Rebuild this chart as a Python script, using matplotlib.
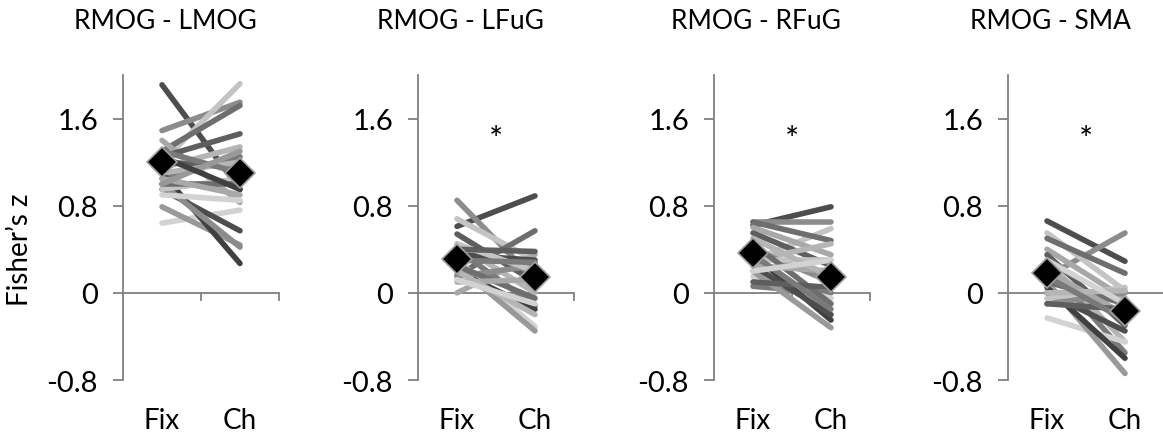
import matplotlib
matplotlib.use("Agg")
import matplotlib.pyplot as plt
import numpy as np

plt.rcParams['font.family'] = ['Lato', 'DejaVu Sans']

titles = ['RMOG - LMOG', 'RMOG - LFuG', 'RMOG - RFuG', 'RMOG - SMA']
conditions = ['Fix', 'Ch']
yticks = [-0.8, 0, 0.8, 1.6]
significant = [False, True, True, True]

# per-subject Fisher's z (Fix, Ch)
lmog_fix = [1.91, 1.49, 1.20, 1.30, 1.40, 1.25, 1.15, 1.05, 0.64, 0.79, 1.10,
            0.95, 1.00, 0.95, 1.00, 1.05, 1.20, 1.10, 1.30, 0.90, 1.00, 1.25]
lmog_ch = [0.95, 1.75, 1.92, 1.72, 0.83, 1.46, 1.34, 1.25, 0.76, 0.44, 0.27,
           0.57, 0.42, 1.05, 1.00, 0.90, 1.15, 1.20, 1.10, 0.85, 1.30, 0.95]
lfug_fix = [0.61, 0.85, 0.68, 0.16, 0.00, 0.54, 0.45, 0.40, 0.30, 0.25,
            0.20, 0.35, 0.15, 0.45, 0.25, 0.10, 0.40, 0.20, 0.30, 0.12]
lfug_ch = [0.89, 0.12, 0.30, 0.57, 0.35, 0.10, 0.00, -0.12, -0.31, -0.35,
           -0.15, 0.30, 0.25, 0.20, -0.05, 0.12, 0.38, -0.20, 0.28, -0.10]
rfug_fix = [0.62, 0.65, 0.30, 0.65, 0.60, 0.55, 0.30, 0.06, 0.15, 0.20,
            0.35, 0.25, 0.40, 0.30, 0.45, 0.25, 0.10, 0.50, 0.35, 0.20]
rfug_ch = [0.79, 0.65, 0.59, 0.48, 0.35, 0.25, 0.45, 0.00, -0.05, -0.32,
           -0.25, -0.20, 0.10, 0.30, -0.10, 0.20, 0.05, 0.15, -0.15, 0.30]
sma_fix = [0.66, 0.15, 0.55, 0.50, 0.40, 0.35, 0.30, 0.25, -0.23, 0.10,
           0.05, 0.00, -0.10, -0.05, 0.10, 0.20, -0.10, 0.00, 0.15, 0.30]
sma_ch = [0.29, 0.55, 0.02, 0.18, -0.05, -0.30, -0.45, -0.55, -0.45, -0.74,
          -0.60, -0.35, 0.00, 0.05, -0.10, -0.20, -0.15, 0.02, -0.25, -0.10]

mean_fix = [1.20, 0.31, 0.37, 0.18]
mean_ch = [1.10, 0.15, 0.15, -0.17]

panels = [(lmog_fix, lmog_ch), (lfug_fix, lfug_ch),
          (rfug_fix, rfug_ch), (sma_fix, sma_ch)]

grays = ['#4d4d4d', '#8c8c8c', '#c4c4c4', '#6e6e6e', '#a8a8a8', '#5e5e5e',
         '#b5b5b5', '#7a7a7a', '#d2d2d2', '#999999', '#404040']

fig = plt.figure(figsize=(11.63, 4.39), dpi=100)
lefts = [123, 418, 714, 1008]
W, H = 1163.0, 439.0
axis_col = '#808080'

for i, (fix, ch) in enumerate(panels):
    ax = fig.add_axes([lefts[i] / W, 1 - 381 / H, 156 / W, 305 / H])
    x = [0.5, 1.5]
    for j, (a, b) in enumerate(zip(fix, ch)):
        ax.plot(x, [a, b], color=grays[j % len(grays)], lw=4.0,
                solid_capstyle='round', zorder=2)
    ax.plot(x, [mean_fix[i], mean_ch[i]], ls='none', marker='D',
            markersize=15, mfc='black', mec='#a0a0a0', mew=1.2, zorder=5)

    ax.set_xlim(0, 2)
    ax.set_ylim(-0.8, 2.0)
    for s in ['top', 'right', 'bottom']:
        ax.spines[s].set_visible(False)
    ax.spines['left'].set_color(axis_col)
    ax.spines['left'].set_linewidth(1.3)
    ax.set_yticks(yticks)
    ax.set_yticklabels(['-0.8', '0', '0.8', '1.6'], fontsize=21)
    ax.tick_params(axis='y', colors=axis_col, labelcolor='black',
                   length=7, width=1.3, pad=11)
    ax.set_xticks([])

    # x axis at zero with category separators
    ax.axhline(0, color=axis_col, lw=1.3, zorder=1)
    for tx in [1, 2]:
        ax.plot([tx, tx], [0, -0.07], color=axis_col, lw=1.3,
                clip_on=False, zorder=1)
    for xc, lab in zip(x, conditions):
        ax.text(xc, -0.13, lab, transform=ax.get_xaxis_transform(),
                ha='center', va='center', fontsize=20)

    ax.text(0.27, 1.18, titles[i], transform=ax.transAxes,
            ha='center', va='center', fontsize=19)
    if significant[i]:
        ax.text(1.0, 1.40, '*', ha='center', va='center', fontsize=24)

fig.text(20 / W, 1 - 250 / H, 'Fisher\u2019s z', rotation=90,
         ha='center', va='center', fontsize=20)

fig.savefig('out.png', dpi=100)
